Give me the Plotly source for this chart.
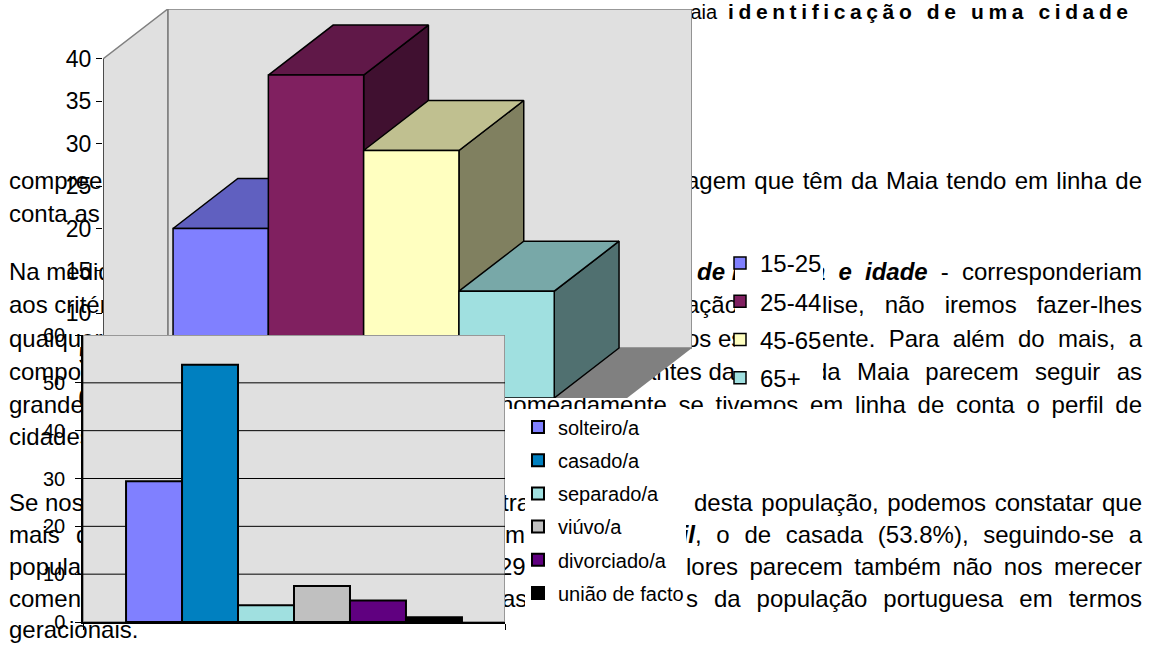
import plotly.graph_objects as go

# ---------------- data ----------------
age_groups = ["15-25", "25-44", "45-65", "65+"]
age_values = [20.0, 38.1, 29.2, 12.6]
age_ticks = [0, 5, 10, 15, 20, 25, 30, 35, 40]

civil_status = ["solteiro/a", "casado/a", "separado/a", "viúvo/a", "divorciado/a", "união de facto"]
civil_values = [29.4, 53.8, 3.5, 7.5, 4.5, 1.0]
civil_ticks = [0, 10, 20, 30, 40, 50, 60]

# ---------------- style ----------------
W, H = 1156, 645
FONT = "Liberation Sans, Arial, Helvetica, sans-serif"
age_front = ["#8080FF", "#802060", "#FFFFC0", "#A0E0E0"]
age_top = ["#6060C0", "#601848", "#C0C090", "#78A8A8"]
age_side = ["#404080", "#401030", "#808060", "#507070"]
civil_colors = ["#8080FF", "#0080C0", "#A0E0E0", "#C0C0C0", "#600080", "#000000"]
WALL = "#E0E0E0"
EDGE = "#808080"
FLOOR = "#808080"

N, B, BI = "n", "b", "bi"

# Arial / Liberation Sans advance widths (1/1000 em)
REG = {' ': 278, '%': 889, '(': 333, ')': 333, ',': 278, '-': 333, '.': 278, '/': 278, ':': 278,
       'I': 278, 'M': 833, 'N': 722, 'P': 667, 'S': 667, 'E': 667,
       'a': 556, 'b': 556, 'c': 500, 'd': 556, 'e': 556, 'f': 278, 'g': 556, 'h': 556, 'i': 222,
       'j': 222, 'k': 500, 'l': 222, 'm': 833, 'n': 556, 'o': 556, 'p': 556, 'q': 556, 'r': 333,
       's': 500, 't': 278, 'u': 556, 'v': 500, 'w': 722, 'x': 500, 'y': 500, 'z': 500,
       'á': 556, 'à': 556, 'â': 556, 'ã': 556, 'é': 556, 'ê': 556, 'í': 278, 'ó': 556,
       'ô': 556, 'õ': 556, 'ú': 556, 'ç': 500}
BOLD = {' ': 278, '%': 889, '(': 333, ')': 333, ',': 278, '-': 333, '.': 278, '/': 278,
        'I': 278, 'M': 833, 'N': 722, 'P': 667, 'S': 667,
        'a': 556, 'b': 611, 'c': 556, 'd': 611, 'e': 556, 'f': 333, 'g': 611, 'h': 611, 'i': 278,
        'j': 278, 'k': 556, 'l': 278, 'm': 889, 'n': 611, 'o': 611, 'p': 611, 'q': 611, 'r': 389,
        's': 556, 't': 333, 'u': 611, 'v': 556, 'w': 778, 'x': 556, 'y': 556, 'z': 500,
        'á': 556, 'ã': 556, 'â': 556, 'é': 556, 'ê': 556, 'í': 278, 'ó': 611, 'õ': 611,
        'ú': 611, 'ç': 556}


def text_width(s, style, size):
    table = REG if style == N else BOLD
    return sum(table.get(c, 556) for c in s) * size / 1000.0


def wl(s, st):
    return [(w, st) for w in s.split()]


# page text: (y centre px, x start px, x end px or None, words)
civil_x = 695 - text_width("civil", BI, 24)
page_segments = [
    (183, 9, None, wl("compreender", N)),
    (183, 686, 1142, wl("agem que têm da Maia tendo em linha de", N)),
    (216, 9, None, wl("conta as suas", N)),
    (274, 9, None, wl("Na medida", N)),
    (274, 697, None, wl("de r", BI)),
    (274, 812, 1142, wl("a e idade", BI) + wl("- corresponderiam", N)),
    (307, 9, None, wl("aos critérios", N)),
    (307, 686, None, wl("ação", N)),
    (307, 822, 1142, wl("lise, não iremos fazer-lhes", N)),
    (341, 9, None, wl("qualquer", N)),
    (341, 686, None, wl("os es", N)),
    (341, 822, 1142, wl("ente. Para além do mais, a", N)),
    (374, 9, None, wl("composição", N)),
    (374, 643, None, wl("antes da", N)),
    (374, 814, 1142, wl("da Maia parecem seguir as", N)),
    (407, 9, None, wl("grandes", N)),
    (407, 500, 1142, wl("nomeadamente se tivemos em linha de conta o perfil de", N)),
    (439, 9, None, wl("cidades", N)),
    (505, 9, None, wl("Se nos", N)),
    (505, 502, None, wl("tra", N)),
    (505, 694, 1142, wl("desta população, podemos constatar que", N)),
    (537, 9, None, wl("mais", N)),
    (537, 76, None, wl("de", N)),
    (537, 505, None, wl("m", N)),
    (537, civil_x, None, [("civil", BI)]),
    (537, 695, 1142, wl(", o de casada (53.8%), seguindo-se a", N)),
    (569, 9, None, wl("população", N)),
    (569, 491, None, wl("(29.4%)", N)),
    (569, 686, 1142, wl("lores parecem também não nos merecer", N)),
    (601, 9, None, wl("comentários", N)),
    (601, 502, None, wl("as", N)),
    (601, 686, 1142, wl("s da população portuguesa em termos", N)),
    (632, 9, None, wl("geracionais.", N)),
]

pts = {N: ([], [], []), B: ([], [], []), BI: ([], [], [])}


def add_segment(y, x0, x1, words, size=24):
    widths = [text_width(t, st, size) for t, st in words]
    if x1 is None or len(words) < 2:
        gaps = [text_width(" ", words[k + 1][1], size) for k in range(len(words) - 1)]
    else:
        g = (x1 - x0 - sum(widths)) / (len(words) - 1)
        gaps = [g] * (len(words) - 1)
    x = x0
    for k, ((t, st), w) in enumerate(zip(words, widths)):
        pts[st][0].append(x)
        pts[st][1].append(y)
        pts[st][2].append(t)
        x += w + (gaps[k] if k < len(gaps) else 0)


for seg in page_segments:
    add_segment(*seg)

# spaced bold heading line
hdr = "identificação de uma cidade"
HDR_Y, HDR_X0, HDR_X1, HDR_SIZE = 13.5, 728, 1128, 21
ls = (HDR_X1 - HDR_X0 - text_width(hdr, B, HDR_SIZE)) / (len(hdr) - 1)
hx, hy, ht = [], [], []
x = HDR_X0
for c in hdr:
    if c != " ":
        hx.append(x)
        hy.append(HDR_Y)
        ht.append(c)
    x += text_width(c, B, HDR_SIZE) + ls

fig = go.Figure()

styles = {N: ("normal", "normal"), B: ("bold", "normal"), BI: ("bold", "italic")}
for st, (xs, ys, ts) in pts.items():
    fig.add_trace(go.Scatter(
        x=xs, y=ys, text=ts, mode="text", textposition="middle right",
        textfont=dict(family=FONT, size=24, color="black", weight=styles[st][0], style=styles[st][1]),
        xaxis="x", yaxis="y", hoverinfo="skip", showlegend=False, cliponaxis=False))
fig.add_trace(go.Scatter(
    x=[690.5], y=[HDR_Y], text=["aia"], mode="text", textposition="middle right",
    textfont=dict(family=FONT, size=20, color="black"),
    xaxis="x", yaxis="y", hoverinfo="skip", showlegend=False, cliponaxis=False))
fig.add_trace(go.Scatter(
    x=hx, y=hy, text=ht, mode="text", textposition="middle right",
    textfont=dict(family=FONT, size=HDR_SIZE, color="black", weight="bold"),
    xaxis="x", yaxis="y", hoverinfo="skip", showlegend=False, cliponaxis=False))

# ---------------- 3-D column chart (subplot 2) ----------------
PX_X = 95.3
X0, X1 = -1.235, 4.265      # front-left / front-right floor corners (category units)
DX = 0.68                    # depth offset (category units)
Y_MAX = age_ticks[-1]
DY = 5.9                     # depth offset (value units)
TOP = Y_MAX + DY
X2_LEFT_PX = 103
X2_RIGHT_PX = X2_LEFT_PX + (X1 + DX - X0) * PX_X
Y2_BOTTOM_PX = 398
Y2_TOP_PX = Y2_BOTTOM_PX - TOP * 8.475


def poly(xs, ys, fill, lc="black", lw=1.5):
    return go.Scatter(x=xs + [xs[0]], y=ys + [ys[0]], mode="lines", fill="toself",
                      fillcolor=fill, line=dict(color=lc, width=lw),
                      xaxis="x2", yaxis="y2", hoverinfo="skip", showlegend=False)


fig.add_trace(poly([X0 + DX, X1 + DX, X1 + DX, X0 + DX], [DY, DY, TOP, TOP], WALL, EDGE, 1.5))
fig.add_trace(poly([X0, X0 + DX, X0 + DX, X0], [0, DY, TOP, Y_MAX], WALL, EDGE, 1.5))
fig.add_trace(poly([X0, X1, X1 + DX, X0 + DX], [0, 0, DY, DY], FLOOR, FLOOR, 0))
fig.add_trace(go.Scatter(x=[X0, X0], y=[0, Y_MAX], mode="lines", line=dict(color="black", width=1),
                         xaxis="x2", yaxis="y2", hoverinfo="skip", showlegend=False))

for i, v in enumerate(age_values):
    L, R = i - 0.5, i + 0.5
    fig.add_trace(poly([R, R + DX, R + DX, R], [0, DY, v + DY, v], age_side[i]))
    fig.add_trace(poly([L, R, R + DX, L + DX], [v, v, v + DY, v + DY], age_top[i]))
    fig.add_trace(poly([L, R, R, L], [0, 0, v, v], age_front[i]))

for i, name in enumerate(age_groups):
    fig.add_trace(go.Bar(x=[None], y=[None], name=name, legend="legend", legendgroup="a%d" % i,
                         marker=dict(color=age_front[i], line=dict(color="black", width=1.5)),
                         xaxis="x2", yaxis="y2", hoverinfo="skip"))

# ---------------- 2-D column chart (subplot 3) ----------------
for i, (name, v) in enumerate(zip(civil_status, civil_values)):
    fig.add_trace(go.Bar(x=[0], y=[v], name=name, legend="legend2", legendgroup="c%d" % i,
                         marker=dict(color=civil_colors[i], line=dict(color="black", width=2)),
                         xaxis="x3", yaxis="y3", hoverinfo="skip"))

shapes = [dict(type="rect", xref="x3", yref="y3", x0=-0.5, x1=0.5, y0=0, y1=civil_ticks[-1],
               fillcolor=WALL, line=dict(color=EDGE, width=1.5), layer="below")]
for t in civil_ticks[1:-1]:
    shapes.append(dict(type="line", xref="x3", yref="y3", x0=-0.5, x1=0.5, y0=t, y1=t,
                       line=dict(color="black", width=1), layer="below"))


def px_rect(x0, y0, x1, y1):
    return dict(type="rect", xref="paper", yref="paper", x0=x0 / W, x1=x1 / W,
                y0=1 - y1 / H, y1=1 - y0 / H, fillcolor="white", line=dict(width=0), layer="above")


shapes += [px_rect(735, 243, 823, 395), px_rect(525, 409, 686, 615), px_rect(505, 409, 850, 421)]

fig.update_layout(
    width=W, height=H, autosize=False,
    margin=dict(l=0, r=0, t=0, b=0, pad=0, autoexpand=False),
    paper_bgcolor="white", plot_bgcolor="rgba(0,0,0,0)",
    barmode="group", bargap=0.204, bargroupgap=0,
    hovermode=False, showlegend=True,
    font=dict(family=FONT, color="black"),
    xaxis=dict(domain=[0, 1], range=[0, W], visible=False, fixedrange=True),
    yaxis=dict(domain=[0, 1], range=[H, 0], visible=False, fixedrange=True),
    xaxis2=dict(domain=[X2_LEFT_PX / W, X2_RIGHT_PX / W], range=[X0, X1 + DX], visible=False,
                anchor="y2", fixedrange=True),
    yaxis2=dict(domain=[1 - Y2_BOTTOM_PX / H, 1 - Y2_TOP_PX / H], range=[0, TOP], anchor="x2",
                tickvals=age_ticks, ticks="outside", ticklen=6, tickcolor="black", tickwidth=1,
                showgrid=False, zeroline=False, showline=False, fixedrange=True, automargin=False,
                tickfont=dict(family=FONT, size=23, color="black")),
    xaxis3=dict(domain=[83 / W, 505 / W], range=[-0.5, 0.5], anchor="y3", showline=True,
                linecolor="black", linewidth=1.5, tickvals=[-0.5, 0.5], ticks="outside",
                ticklen=6, tickcolor="black", showticklabels=False, showgrid=False,
                zeroline=False, fixedrange=True, automargin=False),
    yaxis3=dict(domain=[1 - 622 / H, 1 - 335 / H], range=[0, civil_ticks[-1]], anchor="x3",
                tickvals=civil_ticks, ticks="outside", ticklen=6, tickcolor="black",
                showline=True, linecolor="black", linewidth=1.5, showgrid=False, zeroline=False,
                ticklabelstandoff=6, fixedrange=True, automargin=False,
                tickfont=dict(family=FONT, size=20, color="black")),
    legend=dict(x=720 / W, y=1 - 241 / H, xanchor="left", yanchor="top",
                bgcolor="rgba(0,0,0,0)", borderwidth=0, tracegroupgap=4, traceorder="grouped",
                font=dict(family=FONT, size=24, color="black")),
    legend2=dict(x=518 / W, y=1 - 407.5 / H, xanchor="left", yanchor="top",
                 bgcolor="rgba(0,0,0,0)", borderwidth=0, tracegroupgap=4.2, traceorder="grouped",
                 font=dict(family=FONT, size=20, color="black")),
    shapes=shapes,
)

fig.write_html(
    "out.html",
    config={"displayModeBar": False, "responsive": False},
    post_script="document.body.style.margin='0';document.body.style.padding='0';"
                "document.documentElement.style.overflow='hidden';",
)
